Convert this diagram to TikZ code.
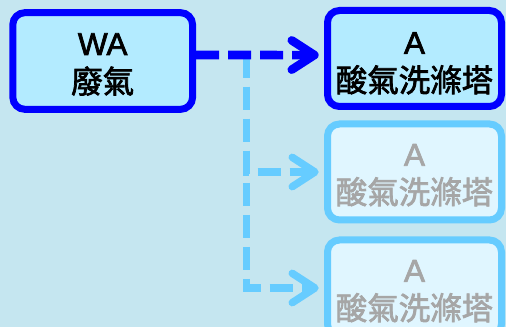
\documentclass[tikz,border=0pt]{standalone}
\usepackage{fontspec}
\setmainfont{Liberation Sans}
\newfontfamily\cjk{Noto Sans CJK TC}
\usetikzlibrary{arrows.meta}
\definecolor{bgc}{HTML}{C5E6F0}
\definecolor{actfill}{HTML}{B3EBFF}
\definecolor{actdraw}{HTML}{0000FF}
\definecolor{offfill}{HTML}{E0F6FF}
\definecolor{offdraw}{HTML}{66CCFF}
\definecolor{offtext}{HTML}{A6A6A6}
\newcommand\heavytext[1]{\special{pdf:literal direct 2 Tr 0.55 w}#1\special{pdf:literal direct 0 Tr}}
\tikzset{
  box/.style={draw, rounded corners=9pt, line width=5.25pt, inner sep=0pt},
  leftbox/.style={box, minimum width=134.8pt, minimum height=72.5pt},
  rightbox/.style={box, minimum width=130.5pt, minimum height=72pt},
  active/.style={draw=actdraw, fill=actfill},
  inactive/.style={draw=offdraw, fill=offfill},
  boxtext/.style={inner sep=0pt, align=center, font=\fontsize{23.6}{28.5}\selectfont},
  acttext/.style={boxtext, text=black},
  offtextst/.style={boxtext, text=offtext},
  flow/.style={line width=6.4pt, dash pattern=on 17.25pt off 6.75pt,
    -{Straight Barb[length=17pt, width=22pt, round]}},
}
\begin{document}
\begin{tikzpicture}[x=0.75pt,y=-0.75pt]
  \fill[bgc] (0,0) rectangle (506,327);
  \useasboundingbox (0,0) rectangle (506,327);
  \clip (0,0) rectangle (506,327);
  \node[leftbox, active] (wa) at (102.7,61) {};
  \node[rightbox, active] (t1) at (414.5,58.5) {};
  \node[rightbox, inactive] (t2) at (414.5,172) {};
  \node[rightbox, inactive] (t3) at (414.5,288) {};
  \node[acttext] (wa-t) at ([yshift=-2.6pt]wa.center) {\heavytext{WA}\\\heavytext{\cjk 廢氣}};
  \node[acttext] (t1-t) at ([yshift=-3.6pt]t1.center) {\heavytext{A}\\\heavytext{\cjk 酸氣洗滌塔}};
  \node[offtextst] (t2-t) at ([yshift=-2.4pt]t2.center) {\heavytext{A}\\\heavytext{\cjk 酸氣洗滌塔}};
  \node[offtextst] (t3-t) at ([yshift=-2.4pt]t3.center) {\heavytext{A}\\\heavytext{\cjk 酸氣洗滌塔}};
  \coordinate (br) at (246.5,55);
  \draw[flow, draw=offdraw, line width=5.6pt, shorten >=4pt] (br) |- (t2.west);
  \draw[flow, draw=offdraw, line width=5.6pt, shorten >=4pt] (br) |- (t3.west);
  \draw[flow, draw=actdraw, shorten >=4pt] ([yshift=4.5pt]wa.east) -- ([yshift=2.6pt]t1.west);
\end{tikzpicture}
\end{document}
